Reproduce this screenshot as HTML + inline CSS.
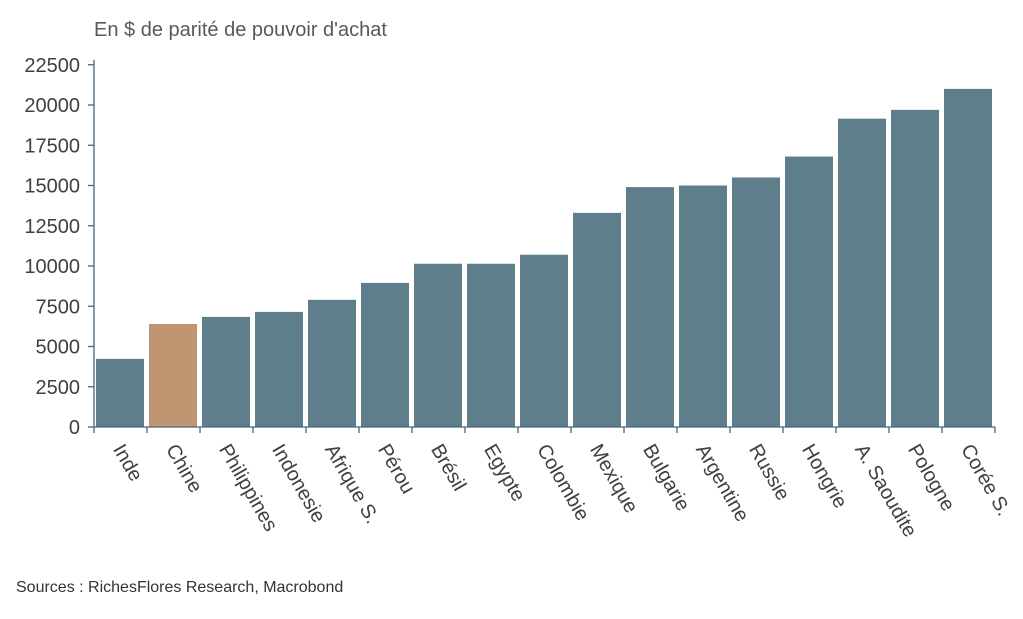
<!DOCTYPE html>
<html><head><meta charset="utf-8"><style>
body{margin:0;background:#fff;}
svg text{font-family:"Liberation Sans",sans-serif;}
</style></head><body>
<svg id="chart" width="1023" height="614" xmlns="http://www.w3.org/2000/svg">
<text x="94" y="36" font-size="20" fill="#595959">En $ de parité de pouvoir d'achat</text>
<g id="yaxis"></g><g id="bars"></g><g id="xaxis"></g>
<text x="16" y="592" font-size="16" fill="#333">Sources : RichesFlores Research, Macrobond</text>
</svg>
<script>
const categories=["Inde","Chine","Philippines","Indonesie","Afrique S.","Pérou","Brésil","Egypte","Colombie","Mexique","Bulgarie","Argentine","Russie","Hongrie","A. Saoudite","Pologne","Corée S."];
const values=[4230,6400,6840,7150,7900,8950,10140,10140,10700,13300,14900,15000,15500,16800,19150,19700,21000];
const highlight=["Chine"];
const yTicks=[0,2500,5000,7500,10000,12500,15000,17500,20000,22500];
const NS="http://www.w3.org/2000/svg";
const x0=94,x1=995,y0=427,yPer=40.25/2500;
const band=(x1-x0)/categories.length;
const y=v=>y0-v*yPer;
const xs=i=>x0+i*band;
function mk(t,a,p){const e=document.createElementNS(NS,t);for(const k in a)e.setAttribute(k,a[k]);p.appendChild(e);return e;}
const ya=document.getElementById('yaxis'),bg=document.getElementById('bars'),xa=document.getElementById('xaxis');
const ax=mk('line',{x1:x0,x2:x0,y1:y(22500)-5,y2:y0,stroke:'#4a6580','stroke-width':1.3},ya);


yTicks.forEach(t=>{
 const l=mk('line',{x1:x0-6,x2:x0,y1:y(t),y2:y(t),stroke:'#4a6580','stroke-width':1.3},ya);
 
 
 const tx=mk('text',{x:x0-14,y:y(t)+7,'text-anchor':'end','font-size':20,fill:'#404040'},ya);
 tx.textContent=t;
 
 
});
categories.forEach((c,i)=>{
 const r=mk('rect',{x:xs(i)+2,y:y(values[i]),width:band-5,height:y0-y(values[i]),fill:highlight.includes(c)?'#c09571':'#5d7e8a'},bg);
 
 
 const cx=xs(i)+band/2-8;
 const tx=mk('text',{x:cx,y:y0+22,'font-size':20,fill:'#404040',transform:`rotate(60 ${cx} ${y0+22})`},xa);
 tx.textContent=c;
 
 
});
for(let i=0;i<=categories.length;i++){
 const l=mk('line',{x1:xs(i),x2:xs(i),y1:y0,y2:y0+6,stroke:'#4a6580','stroke-width':1.3},xa);
 
 
}
const bl=mk('line',{x1:x0,x2:x1,y1:y0,y2:y0,stroke:'#4a6580','stroke-width':1.3},xa);


</script>
</body></html>
